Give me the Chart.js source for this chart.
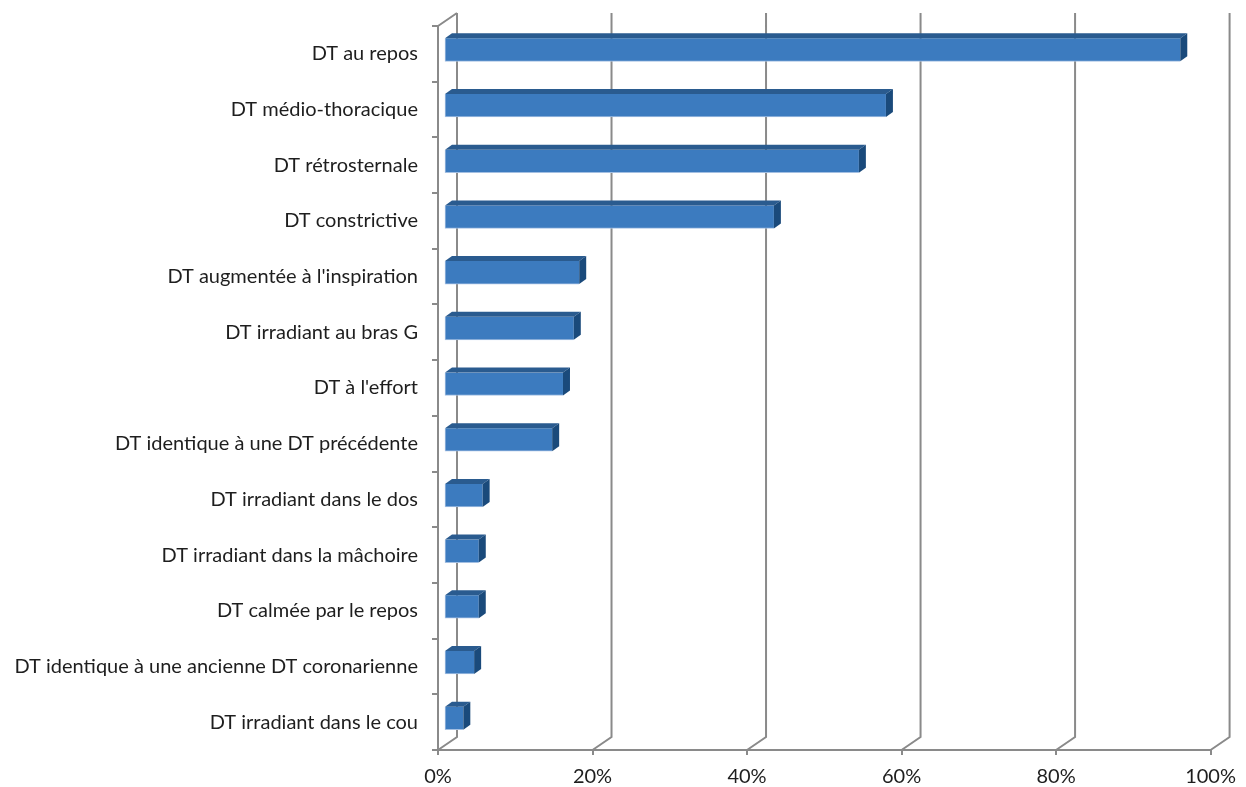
<!DOCTYPE html>
<html>
<head>
<meta charset="utf-8">
<script src="https://cdn.jsdelivr.net/npm/chart.js@4.4.0/dist/chart.umd.min.js"></script>
<style>
  html, body { margin: 0; padding: 0; background: #fff; }
  #wrap { width: 1246px; height: 787px; position: relative; }
</style>
</head>
<body>
<div id="wrap"><canvas id="symptomChart"></canvas></div>
<script>
// données (%)
const categories = [
    'DT au repos',
    'DT médio-thoracique',
    'DT rétrosternale',
    'DT constrictive',
    "DT augmentée à l'inspiration",
    'DT irradiant au bras G',
    "DT à l'effort",
    'DT identique à une DT précédente',
    'DT irradiant dans le dos',
    'DT irradiant dans la mâchoire',
    'DT calmée par le repos',
    'DT identique à une ancienne DT coronarienne',
    'DT irradiant dans le cou'
];
const values = [95.3, 57.2, 53.7, 42.7, 17.5, 16.8, 15.4, 14.0, 5.0, 4.5, 4.5, 3.9, 2.5];
const xTicks = [0, 20, 40, 60, 80, 100];

const lineGrey = '#8a8a8a';
const textColor = '#1e1e1e';
const fontFamily = 'Lato, "Noto Sans", sans-serif';

// effet 3D : profondeur des murs et décalage des barres
const WALL_DX = 19, WALL_DY = 13;
const BAR_DX = 6, BAR_DY = -4;
const FACE_DX = 7, FACE_DY = 5;

const walls3d = {
    id: 'walls3d',
    beforeDatasetsDraw(chart) {
        const { ctx, chartArea: a, scales: { x } } = chart;
        ctx.save();
        ctx.strokeStyle = lineGrey;
        ctx.lineWidth = 2;
        ctx.beginPath();
        // arête haute du mur gauche
        ctx.moveTo(a.left, a.top);
        ctx.lineTo(a.left + WALL_DX, a.top - WALL_DY);
        xTicks.forEach(v => {
            const fx = x.getPixelForValue(v);
            ctx.moveTo(fx, a.bottom);
            ctx.lineTo(fx + WALL_DX, a.bottom - WALL_DY);
            ctx.lineTo(fx + WALL_DX, a.top - WALL_DY);
        });
        ctx.stroke();
        ctx.restore();

        // les barres sont dessinées un peu en profondeur
        ctx.save();
        ctx.translate(BAR_DX, BAR_DY);
    },
    afterDatasetsDraw(chart) {
        const ctx = chart.ctx;
        const meta = chart.getDatasetMeta(0);
        meta.data.forEach(bar => {
            const top = bar.y - bar.height / 2;
            const bottom = bar.y + bar.height / 2;
            const x0 = bar.base, x1 = bar.x;
            // face du dessus
            ctx.fillStyle = '#2a5b8f';
            ctx.beginPath();
            ctx.moveTo(x0, top);
            ctx.lineTo(x0 + FACE_DX, top - FACE_DY);
            ctx.lineTo(x1 + FACE_DX, top - FACE_DY);
            ctx.lineTo(x1, top);
            ctx.closePath();
            ctx.fill();
            // face de côté
            ctx.fillStyle = '#1a4a7b';
            ctx.beginPath();
            ctx.moveTo(x1, top);
            ctx.lineTo(x1 + FACE_DX, top - FACE_DY);
            ctx.lineTo(x1 + FACE_DX, bottom - FACE_DY);
            ctx.lineTo(x1, bottom);
            ctx.closePath();
            ctx.fill();
        });
        ctx.restore();
    }
};

const ctx = document.getElementById('symptomChart').getContext('2d');
new Chart(ctx, {
    type: 'bar',
    data: {
        labels: categories,
        datasets: [{
            data: values,
            backgroundColor: '#3c7bbf',
            borderColor: '#a3bfe2',
            borderWidth: { left: 1, bottom: 1, top: 0, right: 0 },
            borderSkipped: false,
            barThickness: 23
        }]
    },
    options: {
        indexAxis: 'y',
        responsive: true,
        maintainAspectRatio: false,
        animation: false,
        layout: { padding: { top: 25, right: 35, left: 0, bottom: 0 } },
        plugins: {
            legend: { display: false },
            tooltip: { enabled: false }
        },
        scales: {
            x: {
                min: 0,
                max: 100,
                afterBuildTicks: s => { s.ticks = xTicks.map(v => ({ value: v })); },
                ticks: {
                    callback: v => v + '%',
                    font: { family: fontFamily, size: 20 },
                    color: textColor,
                    padding: 10,
                    maxRotation: 0
                },
                grid: { drawOnChartArea: false, drawTicks: true, tickLength: 5, color: lineGrey, lineWidth: 2 },
                border: { display: true, color: lineGrey, width: 2 },
                afterFit: s => { s.height = 37; }
            },
            y: {
                grid: { offset: true, drawOnChartArea: false, drawTicks: true, tickLength: 6, color: lineGrey, lineWidth: 2 },
                border: { display: true, color: lineGrey, width: 2 },
                ticks: {
                    font: { family: fontFamily, size: 20 },
                    color: textColor,
                    padding: 14,
                    autoSkip: false
                },
                afterFit: s => { s.width = 438; }
            }
        }
    },
    plugins: [walls3d]
});
</script>
</body>
</html>
